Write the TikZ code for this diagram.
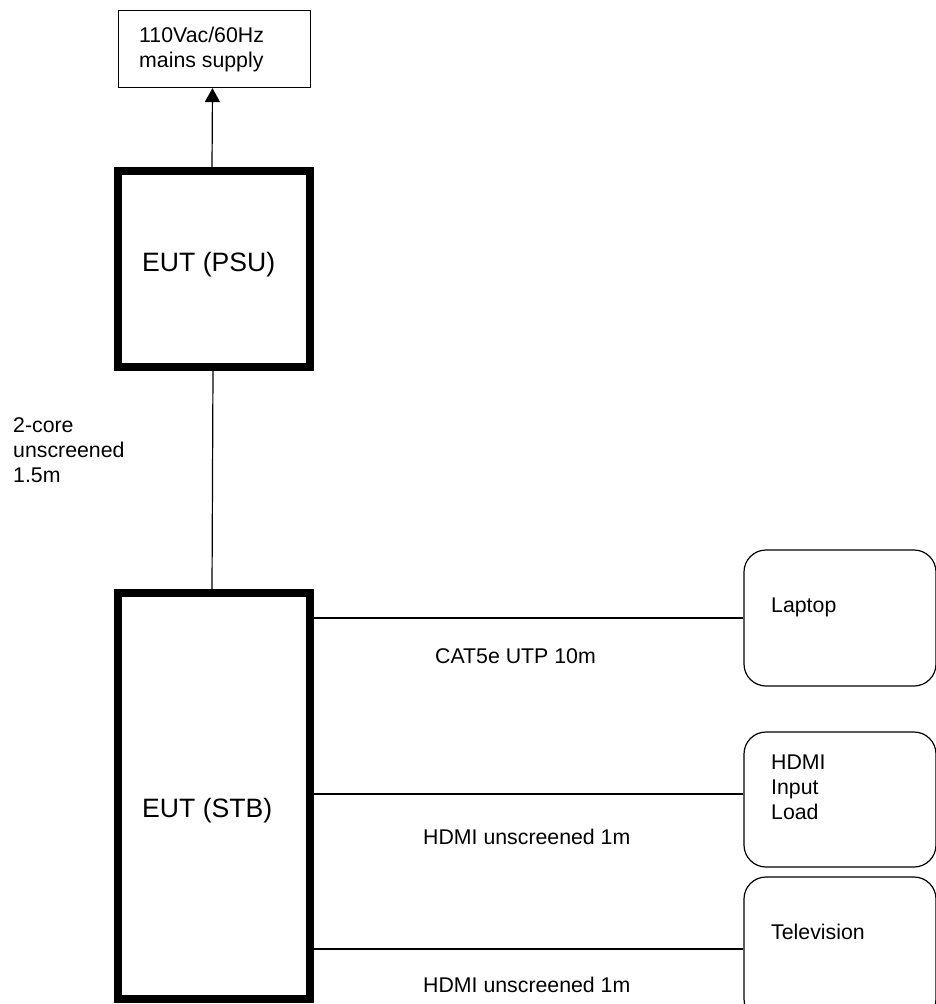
\documentclass[tikz,border=0pt]{standalone}
\usepackage{fontspec}
\setmainfont{Liberation Sans}
\usetikzlibrary{arrows.meta}
\tikzset{
  thinbox/.style={draw=black, line width=1.2pt, inner sep=0pt, fill=white},
  thickbox/.style={draw=black, line width=8pt, inner sep=0pt},
  roundbox/.style={draw=black, line width=1.2pt, inner sep=0pt, rounded corners=22pt},
  wire/.style={draw=black, line width=1.2pt},
  smalltxt/.style={inner sep=0pt, font=\fontsize{21.3}{25}\selectfont, align=left},
  bigtxt/.style={inner sep=0pt, font=\fontsize{26.6}{30}\selectfont},
}
\begin{document}
\begin{tikzpicture}[x=1pt,y=-1pt]
\useasboundingbox[fill=white] (0,0) rectangle (935,1004);
% boxes
\node[thinbox, minimum width=192pt, minimum height=77pt] (mains) at (214.5,49) {};
\node[thickbox, minimum width=192pt, minimum height=196pt] (psu) at (214,269) {};
\node[thickbox, minimum width=192pt, minimum height=406pt] (stb) at (214,796) {};
\node[roundbox, minimum width=192pt, minimum height=136pt] (lap) at (840,618) {};
\node[roundbox, minimum width=192pt, minimum height=135pt] (hdmi) at (840,799.5) {};
\node[roundbox, minimum width=192pt, minimum height=144pt] (tv) at (840,949) {};
% texts
\node[smalltxt, anchor=north west] (mainstxt) at (139,26.5) {110Vac/60Hz\\mains supply};
\node[bigtxt, anchor=base west] (psutxt) at (142,271) {EUT (PSU)};
\node[bigtxt, anchor=base west] (stbtxt) at (142,817.5) {EUT (STB)};
\node[smalltxt, anchor=north west] (coretxt) at (13,417.5) {2-core\\unscreened\\1.5m};
\node[smalltxt, anchor=base west] (laptxt) at (771,612.6) {Laptop};
\node[smalltxt, anchor=north west] (hdmitxt) at (771,754.5) {HDMI\\Input\\Load};
\node[smalltxt, anchor=base west] (tvtxt) at (771,939.6) {Television};
\node[smalltxt, anchor=base west] (cattxt) at (435,663.6) {CAT5e UTP 10m};
\node[smalltxt, anchor=base west] (hdmi1txt) at (423,844.6) {HDMI unscreened 1m};
\node[smalltxt, anchor=base west] (hdmi2txt) at (423,992.6) {HDMI unscreened 1m};
% connectors
\draw[wire, -{Triangle[length=14pt,width=15pt]}] ([xshift=-2pt]psu.north) -- ([xshift=-2pt]mains.south);
\draw[wire] ([xshift=-1pt]psu.south) -- ([xshift=-2pt]stb.north);
\draw[wire] (lap.west -| stb.east) -- (lap.west);
\draw[wire] ([yshift=5.5pt]hdmi.west -| stb.east) -- ([yshift=5.5pt]hdmi.west);
\draw[wire] (tv.west -| stb.east) -- (tv.west);
\end{tikzpicture}
\end{document}
